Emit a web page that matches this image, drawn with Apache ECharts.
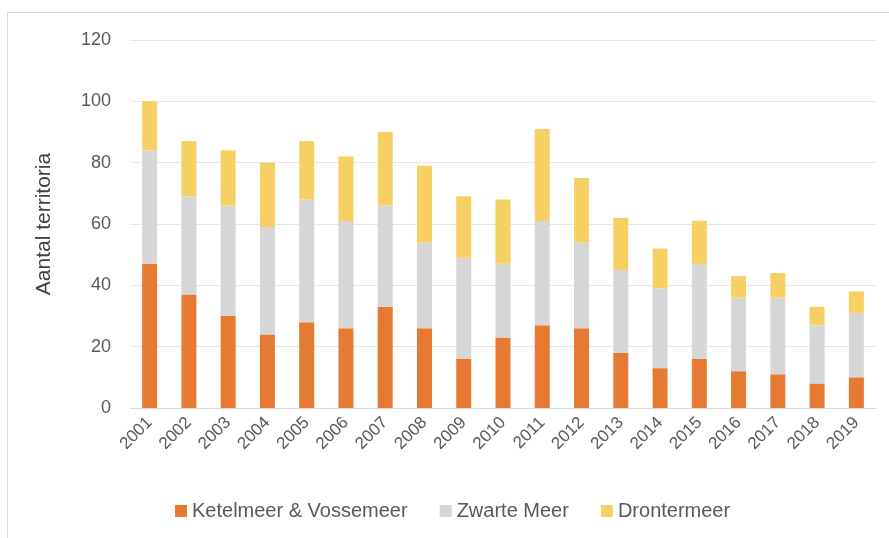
<!DOCTYPE html>
<html>
<head>
<meta charset="utf-8">
<script src="https://cdn.jsdelivr.net/npm/echarts@6/dist/echarts.min.js"></script>
<style>
  html, body { margin: 0; padding: 0; background: #fff; }
  #container { width: 889px; height: 538px; }
</style>
</head>
<body>
<div id="container"></div>
<script>
var years = ['2001','2002','2003','2004','2005','2006','2007','2008','2009','2010',
             '2011','2012','2013','2014','2015','2016','2017','2018','2019'];
// aantal territoria per gebied (gestapeld)
var ketelmeer = [47,37,30,24,28,26,33,26,16,23,27,26,18,13,16,12,11,8,10];
var zwarteMeer = [37,32,36,35,40,35,33,28,33,24,34,28,27,26,31,24,25,19,21];
var drontermeer = [16,18,18,21,19,21,24,25,20,21,30,21,17,13,14,7,8,6,7];
var yTicks = [0, 20, 40, 60, 80, 100, 120];

var txt = '#595959';
var font = 'Liberation Sans';

var option = {
  animation: false,
  textStyle: { fontFamily: font },
  graphic: [{
    type: 'rect',
    shape: { x: 7.5, y: 12.5, width: 900, height: 600 },
    style: { fill: 'none', stroke: '#d9d9d9', lineWidth: 1 },
    silent: true
  }],
  grid: { left: 130, right: 13, top: 40, bottom: 130 },
  legend: {
    bottom: 12,
    left: 170,
    itemWidth: 12,
    itemHeight: 12,
    itemGap: 32,
    icon: 'rect',
    textStyle: { color: txt, fontSize: 20, fontFamily: font },
    data: ['Ketelmeer & Vossemeer', 'Zwarte Meer', 'Drontermeer']
  },
  xAxis: {
    type: 'category',
    data: years,
    axisLine: { show: true, lineStyle: { color: '#d9d9d9' } },
    axisTick: { show: false },
    axisLabel: { rotate: 45, color: txt, fontSize: 17, margin: 12, interval: 0 }
  },
  yAxis: {
    type: 'value',
    min: yTicks[0],
    max: yTicks[yTicks.length - 1],
    interval: 20,
    name: 'Aantal territoria',
    nameLocation: 'middle',
    nameGap: 75,
    nameTextStyle: { color: '#404040', fontSize: 21 },
    axisLine: { show: false },
    axisTick: { show: false },
    axisLabel: { color: txt, fontSize: 18, margin: 19 },
    splitLine: { lineStyle: { color: '#e6e6e6' } }
  },
  series: [
    { name: 'Ketelmeer & Vossemeer', type: 'bar', stack: 't', barWidth: 15,
      itemStyle: { color: '#E67A32' }, data: ketelmeer },
    { name: 'Zwarte Meer', type: 'bar', stack: 't', barWidth: 15,
      itemStyle: { color: '#D6D6D6' }, data: zwarteMeer },
    { name: 'Drontermeer', type: 'bar', stack: 't', barWidth: 15,
      itemStyle: { color: '#F6D063' }, data: drontermeer }
  ]
};

var myChart = echarts.init(document.getElementById('container'));
myChart.setOption(option);
</script>
</body>
</html>
